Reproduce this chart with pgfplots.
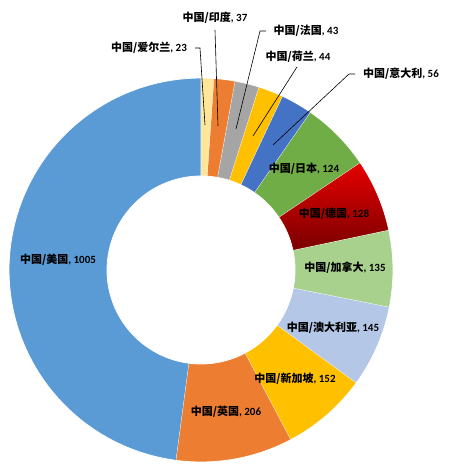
\documentclass[border=0pt]{standalone}
\usepackage{fontspec}
\setmainfont{Carlito}
\newfontfamily\cjk{Noto Sans CJK SC}
\usepackage{pgfplots}
\pgfplotsset{compat=1.18}

\definecolor{cIrl}{HTML}{FFE699}
\definecolor{cOrange}{HTML}{ED7D31}
\definecolor{cGray}{HTML}{A5A5A5}
\definecolor{cGold}{HTML}{FFC000}
\definecolor{cBlue}{HTML}{4472C4}
\definecolor{cGreen}{HTML}{70AD47}
\definecolor{cRedTop}{HTML}{E60000}
\definecolor{cRedBot}{HTML}{7A0000}
\definecolor{cLtGreen}{HTML}{A9D18E}
\definecolor{cLtBlue}{HTML}{B4C7E7}
\definecolor{cSky}{HTML}{5B9BD5}

% donut geometry (pt): centre, outer and inner radius; total of all values
\def\cx{201}\def\cy{199}\def\Ro{192}\def\Ri{94}
\def\total{2098}
\def\cum{0}

% one ring segment, #1 = value, #2 = plot style
\newcommand\slice[2]{%
  \edef\aA{(90-360*\cum/\total)}%
  \xdef\cum{\the\numexpr\cum+#1\relax}%
  \edef\aB{(90-360*\cum/\total)}%
  \edef\tmp{\noexpand\addplot[#2, draw=white, line width=0.8pt,
    variable=\noexpand\t, samples at={0,1,...,80,200,201,...,280}]
    ({\cx+((\noexpand\t<150)?\Ro:\Ri)*cos((\noexpand\t<150)?(\aA+\noexpand\t/80*(\aB-\aA)):(\aB-(\noexpand\t-200)/80*(\aB-\aA)))},
     {\cy+((\noexpand\t<150)?\Ro:\Ri)*sin((\noexpand\t<150)?(\aA+\noexpand\t/80*(\aB-\aA)):(\aB-(\noexpand\t-200)/80*(\aB-\aA)))});}%
  \tmp
}

\newcommand\lab[2]{{\bfseries\cjk 中国/#1}\textbf{, #2}}

\begin{document}
\begin{tikzpicture}
\begin{axis}[
  width=451pt, height=469pt, scale only axis,
  xmin=0, xmax=451, ymin=0, ymax=469,
  hide axis, clip=false,
]
\path (axis cs:0,0) rectangle (axis cs:451,469);

\slice{23}{fill=cIrl}
\slice{37}{fill=cOrange}
\slice{43}{fill=cGray}
\slice{44}{fill=cGold}
\slice{56}{fill=cBlue}
\slice{124}{fill=cGreen}
\slice{128}{top color=cRedTop, bottom color=cRedBot}
\slice{135}{fill=cLtGreen}
\slice{145}{fill=cLtBlue}
\slice{152}{fill=cGold}
\slice{206}{fill=cOrange}
\slice{1005}{fill=cSky}

\tikzset{every node/.style={font=\fontsize{11}{13}\selectfont, inner sep=0pt}}
\node at (axis cs:58,209) {\lab{美国}{1005}};
\node at (axis cs:226,57) {\lab{英国}{206}};
\node at (axis cs:295,90) {\lab{新加坡}{152}};
\node at (axis cs:333,141) {\lab{澳大利亚}{145}};
\node at (axis cs:345,201) {\lab{加拿大}{135}};
\node at (axis cs:334,255) {\lab{德国}{128}};
\node at (axis cs:304,300) {\lab{日本}{124}};

\node at (axis cs:401,395) {\lab{意大利}{56}};
\node at (axis cs:298,412) {\lab{荷兰}{44}};
\node at (axis cs:306,438) {\lab{法国}{43}};
\node at (axis cs:215,451) {\lab{印度}{37}};
\node at (axis cs:149,421) {\lab{爱尔兰}{23}};

\draw[black, line width=0.6pt] (axis cs:355,395) -- (axis cs:349,395) -- (axis cs:273,324);
\draw[black, line width=0.6pt] (axis cs:297,402) -- (axis cs:253,333);
\draw[black, line width=0.6pt] (axis cs:266,438) -- (axis cs:260,438) -- (axis cs:236,340);
\draw[black, line width=0.6pt] (axis cs:215,439) -- (axis cs:218,343);
\draw[black, line width=0.6pt] (axis cs:195,421) -- (axis cs:200,421) -- (axis cs:205,344);
\end{axis}
\end{tikzpicture}
\end{document}
